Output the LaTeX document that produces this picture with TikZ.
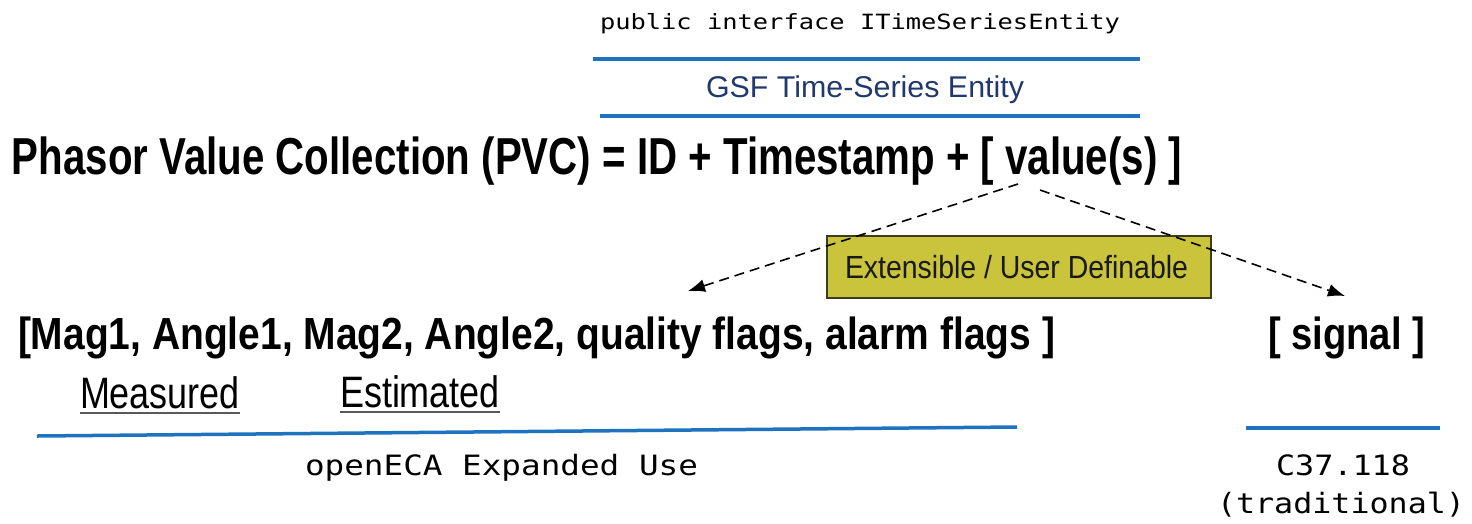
\documentclass[tikz,border=0pt]{standalone}
\usepackage{graphicx}
\usepackage{fontspec}
\setmainfont{Liberation Sans}
\newfontfamily\codefont{DejaVu Sans Mono}
\usetikzlibrary{arrows.meta}

% squeeze a text horizontally to a given width, keeping its height
\newcommand{\squeezeto}[2]{\resizebox{#1}{\height}{#2}}

\definecolor{barblue}{RGB}{30,115,190}
\definecolor{navytext}{RGB}{32,56,110}
\definecolor{olivefill}{RGB}{201,196,60}
\definecolor{oliveedge}{RGB}{60,60,30}

\begin{document}
\begin{tikzpicture}[x=1pt,y=-1pt,
  txt/.style={inner sep=0pt,outer sep=0pt,anchor=base west},
  bar/.style={draw=barblue,line width=4pt},
  uline/.style={draw=black!65,line width=1.8pt},
  flow/.style={draw=black,line width=1.6pt,dash pattern=on 10pt off 6pt,
    -{Latex[length=17pt,width=13pt]}},
  tagbox/.style={draw=oliveedge,line width=1.5pt,fill=olivefill}]
\useasboundingbox (0,0) rectangle (1472,523);

% interface layer
\node[txt] (iface) at (600,29) {\fontsize{21}{24}\codefont\squeezeto{520pt}{public interface ITimeSeriesEntity}};
\coordinate (b1l) at (593,59); \coordinate (b1r) at (1140,59);
\draw[bar] (b1l) -- (b1r);
\node[txt,text=navytext] (gsf) at (706,97) {\fontsize{30}{34}\selectfont\squeezeto{318pt}{GSF Time-Series Entity}};
\coordinate (b2l) at (600,116); \coordinate (b2r) at (1140,116);
\draw[bar] (b2l) -- (b2r);

% main definition
\node[txt] (pvc) at (12,174) {\fontsize{52}{58}\bfseries\squeezeto{1170pt}{Phasor Value Collection (PVC) = ID + Timestamp + [ value(s) ]}};

% label box
\node[tagbox,minimum width=384pt,minimum height=62pt,inner sep=0pt,anchor=north west] (ext) at (826,235) {};
\node[txt,text=black!90] (extlbl) at (845,278) {\fontsize{32}{36}\selectfont\squeezeto{343pt}{Extensible / User Definable}};

% value sets
\node[txt] (list) at (18,349) {\fontsize{45}{50}\bfseries\squeezeto{1037pt}{[Mag1, Angle1, Mag2, Angle2, quality flags, alarm flags ]}};
\node[txt] (sig) at (1268,349) {\fontsize{45}{50}\bfseries\squeezeto{157pt}{[ signal ]}};

% dashed connectors from the value part
\coordinate (vL) at (1018,184);
\coordinate (vR) at (1040,190);
\coordinate (listtip) at (688,291);
\coordinate (sigtip) at (1345,296);
\draw[flow] (vL) -- (listtip);
\draw[flow] (vR) -- (sigtip);

% measured / estimated
\node[txt] (meas) at (80,408) {\fontsize{44}{50}\selectfont\squeezeto{160pt}{Measured}};
\node[txt] (est) at (340,407) {\fontsize{44}{50}\selectfont\squeezeto{160pt}{Estimated}};
\draw[uline] (meas.base west) ++(0,5) -- ++(160,0);
\draw[uline] (est.base west) ++(0,5) -- ++(160,0);

% usage bars
\coordinate (b3l) at (37,436); \coordinate (b3r) at (1017,427);
\draw[bar,line width=3.5pt] (b3l) -- (b3r);
\node[txt] (oeca) at (305,475) {\fontsize{28}{32}\codefont\squeezeto{393pt}{openECA Expanded Use}};
\coordinate (b4l) at (1246,428); \coordinate (b4r) at (1440,428);
\draw[bar,line width=4.5pt] (b4l) -- (b4r);
\node[txt] (c37) at (1276,475) {\fontsize{28}{32}\codefont\squeezeto{134pt}{C37.118}};
\node[txt] (trad) at (1217,513) {\fontsize{28}{32}\codefont\squeezeto{248pt}{(traditional)}};
\end{tikzpicture}
\end{document}
